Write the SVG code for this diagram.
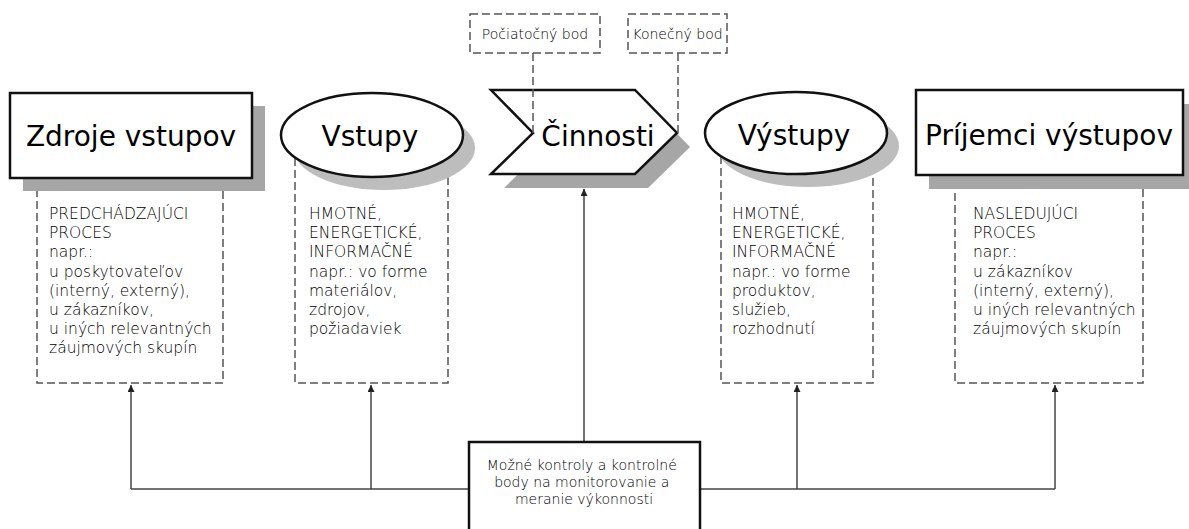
<svg xmlns="http://www.w3.org/2000/svg" width="1189" height="529" viewBox="0 0 1189 529">
  <defs>
    <style>
      .title { font-family: "DejaVu Sans", "Liberation Sans", sans-serif; font-size: 28px; fill: #000; }
      .body { font-family: "DejaVu Sans ExtraLight", "DejaVu Sans", sans-serif; font-weight: 200; font-size: 15.5px; fill: #000; }
      .small { font-family: "DejaVu Sans ExtraLight", "DejaVu Sans", sans-serif; font-weight: 200; font-size: 14px; fill: #000; }
      .dash { fill: #fff; stroke: #555; stroke-width: 1.5; stroke-dasharray: 8 4; }
      .dashline { fill: none; stroke: #555; stroke-width: 1.5; stroke-dasharray: 8 4; }
      .shape { fill: #fff; stroke: #111; stroke-width: 2.5; }
      .shadow { fill: #a6a6a6; }
      .shadow-soft { fill: #bdbdbd; }
      .link { fill: none; stroke: #444; stroke-width: 1.5; }
    </style>
    <marker id="arrow" viewBox="0 0 10 10" refX="10" refY="5" markerWidth="14" markerHeight="7" markerUnits="userSpaceOnUse" orient="auto">
      <path d="M0,0 L10,5 L0,10 z" fill="#222"/>
    </marker>
  </defs>

  <rect width="1189" height="529" fill="#fff"/>

  <!-- detail boxes (drawn first so the headers overlap them) -->
  <g id="detail-sources">
    <rect class="dash" x="37" y="185" width="186" height="198"/>
    <text class="body">
      <tspan x="49" y="219">PREDCHÁDZAJÚCI</tspan>
      <tspan x="49" y="238.2">PROCES</tspan>
      <tspan x="49" y="257.4">napr.:</tspan>
      <tspan x="49" y="276.6">u poskytovateľov</tspan>
      <tspan x="49" y="295.8">(interný, externý),</tspan>
      <tspan x="49" y="315">u zákazníkov,</tspan>
      <tspan x="49" y="334.2">u iných relevantných</tspan>
      <tspan x="49" y="353.4">záujmových skupín</tspan>
    </text>
  </g>
  <g id="detail-inputs">
    <rect class="dash" x="295" y="150" width="153" height="233"/>
    <text class="body">
      <tspan x="309" y="219">HMOTNÉ,</tspan>
      <tspan x="309" y="238.2">ENERGETICKÉ,</tspan>
      <tspan x="309" y="257.4">INFORMAČNÉ</tspan>
      <tspan x="309" y="276.6">napr.: vo forme</tspan>
      <tspan x="309" y="295.8">materiálov,</tspan>
      <tspan x="309" y="315">zdrojov,</tspan>
      <tspan x="309" y="334.2">požiadaviek</tspan>
    </text>
  </g>
  <g id="detail-outputs">
    <rect class="dash" x="721" y="150" width="152" height="233"/>
    <text class="body">
      <tspan x="732" y="219">HMOTNÉ,</tspan>
      <tspan x="732" y="238.2">ENERGETICKÉ,</tspan>
      <tspan x="732" y="257.4">INFORMAČNÉ</tspan>
      <tspan x="732" y="276.6">napr.: vo forme</tspan>
      <tspan x="732" y="295.8">produktov,</tspan>
      <tspan x="732" y="315">služieb,</tspan>
      <tspan x="732" y="334.2">rozhodnutí</tspan>
    </text>
  </g>
  <g id="detail-recipients">
    <rect class="dash" x="955" y="185" width="188" height="198"/>
    <text class="body">
      <tspan x="973" y="219">NASLEDUJÚCI</tspan>
      <tspan x="973" y="238.2">PROCES</tspan>
      <tspan x="973" y="257.4">napr.:</tspan>
      <tspan x="973" y="276.6">u zákazníkov</tspan>
      <tspan x="973" y="295.8">(interný, externý),</tspan>
      <tspan x="973" y="315">u iných relevantných</tspan>
      <tspan x="973" y="334.2">záujmových skupín</tspan>
    </text>
  </g>

  <!-- header shapes -->
  <g id="sources">
    <rect class="shadow" x="23" y="106" width="242" height="85"/>
    <rect class="shape" x="10" y="93" width="242" height="85"/>
    <text class="title" x="131" y="146" text-anchor="middle">Zdroje vstupov</text>
  </g>
  <g id="inputs">
    <ellipse class="shadow-soft" cx="384" cy="148" rx="91" ry="42"/>
    <ellipse class="shape" cx="372" cy="135" rx="91" ry="42"/>
    <text class="title" x="370" y="146" text-anchor="middle">Vstupy</text>
  </g>
  <g id="activities">
    <polygon class="shadow" points="504,104 648,104 690,147 648,188 504,188 546,147"/>
    <polygon class="shape" points="491,90 635,90 677,133 635,174 491,174 533,133"/>
    <text class="title" x="598" y="146" text-anchor="middle">Činnosti</text>
  </g>
  <g id="outputs">
    <ellipse class="shadow-soft" cx="808" cy="146" rx="91" ry="41"/>
    <ellipse class="shape" cx="796" cy="133" rx="91" ry="41"/>
    <text class="title" x="794" y="145" text-anchor="middle">Výstupy</text>
  </g>
  <g id="recipients">
    <rect class="shadow" x="929" y="104" width="262" height="85"/>
    <rect class="shape" x="916" y="90" width="267" height="85"/>
    <text class="title" x="1049" y="145" text-anchor="middle">Príjemci výstupov</text>
  </g>

  <!-- start / end point markers -->
  <g id="start-point">
    <rect class="dash" x="470" y="14" width="130" height="39"/>
    <text class="small" x="535" y="39" text-anchor="middle">Počiatočný bod</text>
    <line class="dashline" x1="533" y1="53" x2="533" y2="133"/>
  </g>
  <g id="end-point">
    <rect class="dash" x="628" y="14" width="99" height="39"/>
    <text class="small" x="677.5" y="39" text-anchor="middle">Konečný bod</text>
    <line class="dashline" x1="678" y1="53" x2="678" y2="133"/>
  </g>

  <!-- connectors -->
  <g id="connectors">
    <polyline class="link" points="131,489 1055,489"/>
    <line class="link" x1="131" y1="489" x2="131" y2="385" marker-end="url(#arrow)"/>
    <line class="link" x1="371" y1="489" x2="371" y2="385" marker-end="url(#arrow)"/>
    <line class="link" x1="584" y1="445" x2="584" y2="189" marker-end="url(#arrow)"/>
    <line class="link" x1="797" y1="489" x2="797" y2="385" marker-end="url(#arrow)"/>
    <line class="link" x1="1055" y1="489" x2="1055" y2="385" marker-end="url(#arrow)"/>
  </g>

  <!-- monitoring box -->
  <g id="monitoring">
    <rect x="469" y="442" width="231" height="97" fill="#fff" stroke="#111" stroke-width="2.5"/>
    <text class="small" text-anchor="middle">
      <tspan x="584" y="470">Možné kontroly a kontrolné</tspan>
      <tspan x="584" y="487">body na monitorovanie a</tspan>
      <tspan x="584" y="504">meranie výkonnosti</tspan>
    </text>
  </g>
</svg>
